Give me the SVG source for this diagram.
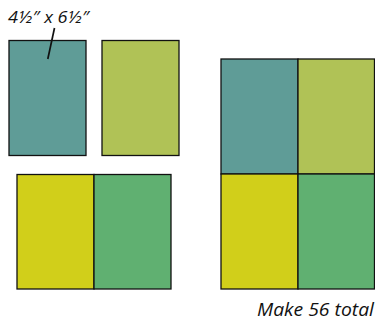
<svg xmlns="http://www.w3.org/2000/svg" width="375" height="323" viewBox="0 0 375 323">
<style>
rect{stroke:#111;stroke-width:1.3}
.teal{fill:#5f9c97}
.olive{fill:#b0c256}
.yellow{fill:#d1cf1a}
.green{fill:#60b071}
text{font-family:"Open Sans","Liberation Sans",sans-serif;font-style:italic;fill:#111}
</style>
<rect width="375" height="323" fill="#fff" style="stroke:none"/>
<g id="piece-teal"><rect class="teal" x="9" y="40.5" width="77" height="115"/></g>
<g id="piece-olive"><rect class="olive" x="102" y="40.5" width="77" height="115"/></g>
<g id="pair-bottom">
<rect class="yellow" x="17" y="174.5" width="77" height="114.5"/>
<rect class="green" x="94" y="174.5" width="77" height="114.5"/>
</g>
<g id="block">
<rect class="teal" x="221" y="59" width="77" height="115"/>
<rect class="olive" x="298" y="59" width="76.5" height="115"/>
<rect class="yellow" x="221" y="174" width="77" height="115"/>
<rect class="green" x="298" y="174" width="76.5" height="115"/>
</g>
<g id="label-size"><text x="8" y="22.5" font-size="15.5" textLength="81" lengthAdjust="spacingAndGlyphs">4½″ x 6½″</text></g>
<g id="connectors"><line x1="54.5" y1="28" x2="47.8" y2="59" stroke="#111" stroke-width="1.7"/></g>
<g id="label-total"><text x="374" y="316" font-size="17.5" text-anchor="end" textLength="117" lengthAdjust="spacingAndGlyphs">Make 56 total</text></g>
</svg>
